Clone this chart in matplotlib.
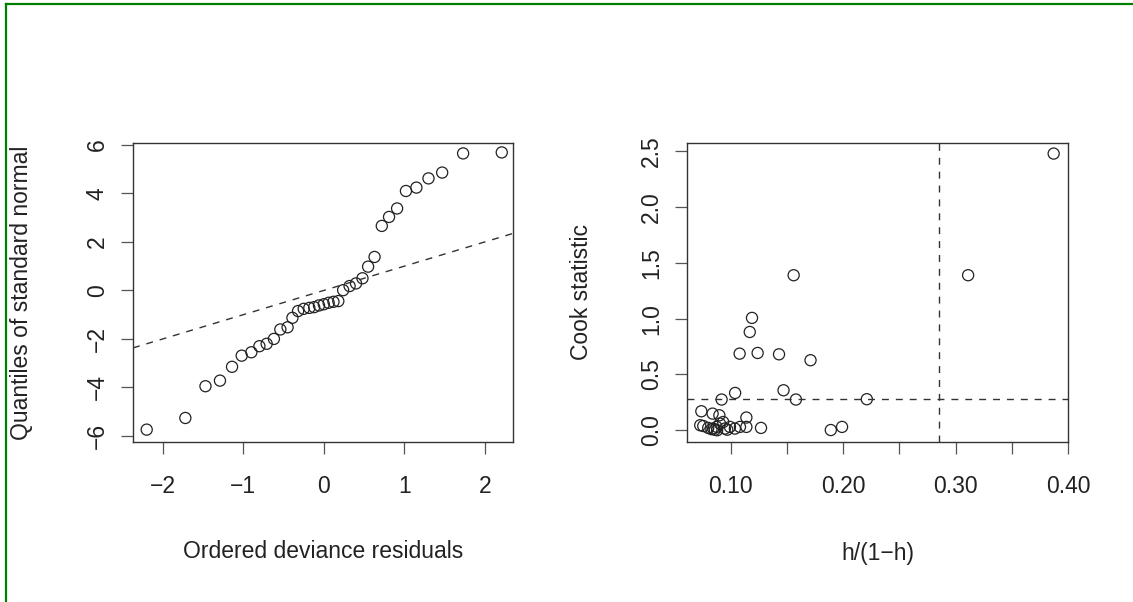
import matplotlib
matplotlib.use("Agg")
import matplotlib.pyplot as plt
from matplotlib.lines import Line2D

plt.rcParams["font.family"] = ["Liberation Sans", "DejaVu Sans"]

# left panel: normal QQ plot of deviance residuals
qq_x = [-2.20, -1.72, -1.47, -1.29, -1.14, -1.02, -0.90, -0.80, -0.71, -0.62,
        -0.54, -0.45, -0.39, -0.32, -0.25, -0.18, -0.12, -0.06, 0.00, 0.06,
        0.12, 0.18, 0.24, 0.32, 0.40, 0.48, 0.55, 0.63, 0.72, 0.81,
        0.91, 1.02, 1.15, 1.30, 1.47, 1.73, 2.21]
qq_y = [-5.74, -5.26, -3.95, -3.72, -3.15, -2.69, -2.55, -2.30, -2.20, -2.00,
        -1.61, -1.52, -1.13, -0.85, -0.76, -0.72, -0.69, -0.62, -0.57, -0.51,
        -0.47, -0.44, 0.01, 0.18, 0.29, 0.50, 0.98, 1.38, 2.66, 3.03,
        3.38, 4.10, 4.24, 4.62, 4.86, 5.65, 5.69]
qq_xticks = [-2, -1, 0, 1, 2]
qq_yticks = [-6, -4, -2, 0, 2, 4, 6]

# right panel: Cook statistic vs leverage ratio
cook_h = [0.387, 0.311, 0.156, 0.119, 0.117, 0.108, 0.124, 0.143, 0.171, 0.147,
          0.104, 0.158, 0.221, 0.092, 0.074, 0.084, 0.090, 0.114, 0.073, 0.127,
          0.189, 0.199, 0.0757, 0.0801, 0.0845, 0.086, 0.083, 0.0876, 0.0905, 0.0934,
          0.0949, 0.0994, 0.1038, 0.1083, 0.114, 0.088, 0.097]
cook_d = [2.477, 1.388, 1.388, 1.006, 0.880, 0.686, 0.692, 0.680, 0.627, 0.358,
          0.334, 0.275, 0.278, 0.275, 0.170, 0.149, 0.134, 0.114, 0.045, 0.021,
          0.002, 0.030, 0.038, 0.021, 0.015, 0.005, 0.010, 0.030, 0.060, 0.074,
          0.015, 0.030, 0.015, 0.030, 0.030, 0.000, 0.005]
h_cut = 0.285
cook_cut = 0.284
cook_xticks = [0.10, 0.15, 0.20, 0.25, 0.30, 0.35, 0.40]
cook_xlabels = ["0.10", "", "0.20", "", "0.30", "", "0.40"]
cook_yticks = [0.0, 0.5, 1.0, 1.5, 2.0, 2.5]
cook_ylabels = ["0.0", "0.5", "1.0", "1.5", "2.0", "2.5"]

ink = "#222222"
fs = 16.5

fig = plt.figure(figsize=(11.33, 6.02), dpi=100)
ax1 = fig.add_axes([0.1174, 0.2658, 0.3354, 0.4967])
ax2 = fig.add_axes([0.6066, 0.2658, 0.3363, 0.4967])


def style(ax):
    for sp in ax.spines.values():
        sp.set_color("#333333")
        sp.set_linewidth(1.0)
    ax.tick_params(length=8.5, width=0.9, color="#555555", labelsize=fs,
                   labelcolor=ink)
    ax.tick_params(axis="x", pad=15)
    ax.tick_params(axis="y", labelrotation=90, pad=9)
    for lbl in ax.get_yticklabels():
        lbl.set_va("center")


mk = dict(marker="o", s=64, facecolors="none", edgecolors=ink, linewidths=0.9)
dash = dict(color="#333333", lw=1.0, dashes=(5, 5))

ax1.scatter(qq_x, qq_y, **mk)
ax1.axline((0, 0), slope=1, **dash)
ax1.set_xlim(-2.37, 2.35)
ax1.set_ylim(-6.25, 6.08)
ax1.set_xticks(qq_xticks)
ax1.set_yticks(qq_yticks)
style(ax1)
ax1.set_xlabel("Ordered deviance residuals", fontsize=fs, color=ink)
ax1.set_ylabel("Quantiles of standard normal", fontsize=fs, color=ink)
ax1.xaxis.set_label_coords(0.5, -0.328)
ax1.yaxis.set_label_coords(-0.263, 0.5)

ax2.scatter(cook_h, cook_d, **mk)
ax2.axvline(h_cut, **dash)
ax2.axhline(cook_cut, **dash)
ax2.set_xlim(0.0615, 0.40)
ax2.set_ylim(-0.105, 2.572)
ax2.set_xticks(cook_xticks, cook_xlabels)
ax2.set_yticks(cook_yticks, cook_ylabels)
style(ax2)
ax2.set_xlabel("h/(1\u2212h)", fontsize=fs, color=ink)
ax2.set_ylabel("Cook statistic", fontsize=fs, color=ink)
ax2.xaxis.set_label_coords(0.5, -0.334)
ax2.yaxis.set_label_coords(-0.2475, 0.5)

# green frame on top and left edges
W, H = 1133, 602
fig.add_artist(Line2D([6 / W, 1], [1 - 4 / H, 1 - 4 / H], color="#008000", lw=1.6,
                      transform=fig.transFigure))
fig.add_artist(Line2D([6 / W, 6 / W], [0, 1 - 4 / H], color="#008000", lw=1.6,
                      transform=fig.transFigure))

fig.savefig("out.png", dpi=100)
